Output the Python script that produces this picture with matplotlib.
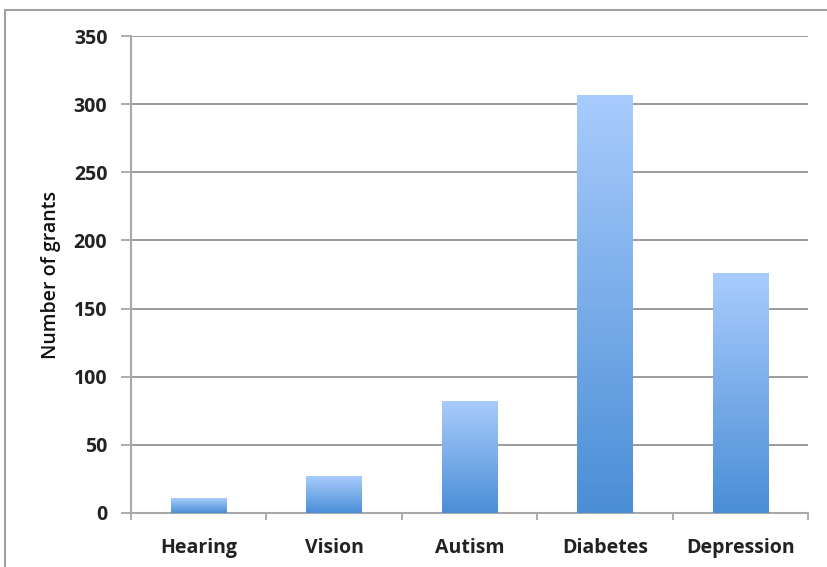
import numpy as np
import matplotlib
matplotlib.use("Agg")
import matplotlib.pyplot as plt
from matplotlib.colors import LinearSegmentedColormap
from matplotlib.patches import Rectangle

categories = ["Hearing", "Vision", "Autism", "Diabetes", "Depression"]
grants = [11, 27, 82, 307, 176]
y_ticks = [0, 50, 100, 150, 200, 250, 300, 350]
y_label = "Number of grants"

plt.rcParams['font.family'] = ['Open Sans', 'DejaVu Sans']

fig = plt.figure(figsize=(8.28, 5.67), dpi=100)
fig.patch.set_facecolor("white")
# outer chart frame (cropped at right/bottom)
fig.patches.append(Rectangle((5/828, -0.05), 1.1, (557)/567 + 0.05,
                             transform=fig.transFigure, fill=False,
                             edgecolor="#a0a0a0", linewidth=1.5))

ax = fig.add_axes([131/828, 54/567, (808-131)/828, (513-36)/567])
x = np.arange(len(categories))
bars = ax.bar(x, grants, width=0.41, color="none", edgecolor="none", zorder=3)

cmap = LinearSegmentedColormap.from_list("g", ["#4a8ed6", "#a9ccfd"])
grad = np.linspace(0, 1, 256).reshape(-1, 1)
for b in bars:
    x0, y0 = b.get_x(), b.get_y()
    w, h = b.get_width(), b.get_height()
    im = ax.imshow(grad, cmap=cmap, origin="lower", aspect="auto",
                   extent=[x0, x0 + w, y0, y0 + h], zorder=3)
    im.set_clip_path(b)

ax.set_xlim(-0.5, len(categories) - 0.5)
ax.set_ylim(0, 350)
ax.set_yticks(y_ticks)
ax.set_yticklabels([str(t) for t in y_ticks], fontsize=14, fontweight="bold", color="#222222")
ax.set_xticks(x)
ax.set_xticklabels(categories, fontsize=14, fontweight="bold", color="#222222")
ax.set_xticks(np.arange(len(categories) + 1) - 0.5, minor=True)
ax.tick_params(axis="x", which="major", length=0, pad=18)
ax.tick_params(axis="x", which="minor", length=5, color="#a0a0a0", width=1.2)
ax.tick_params(axis="y", length=7, color="#a0a0a0", width=1.2, pad=10)

ax.yaxis.grid(True, color="#8a8a8a", linewidth=1.2, zorder=0)
ax.set_axisbelow(True)
for s in ["top", "right"]:
    ax.spines[s].set_visible(False)
for s in ["left", "bottom"]:
    ax.spines[s].set_color("#a8a8a8")
    ax.spines[s].set_linewidth(1.5)

ax.set_ylabel(y_label, fontsize=14, fontweight=600, color="#111111")
ax.yaxis.set_label_coords(-0.104, 0.5)

fig.savefig("out.png", dpi=100)
